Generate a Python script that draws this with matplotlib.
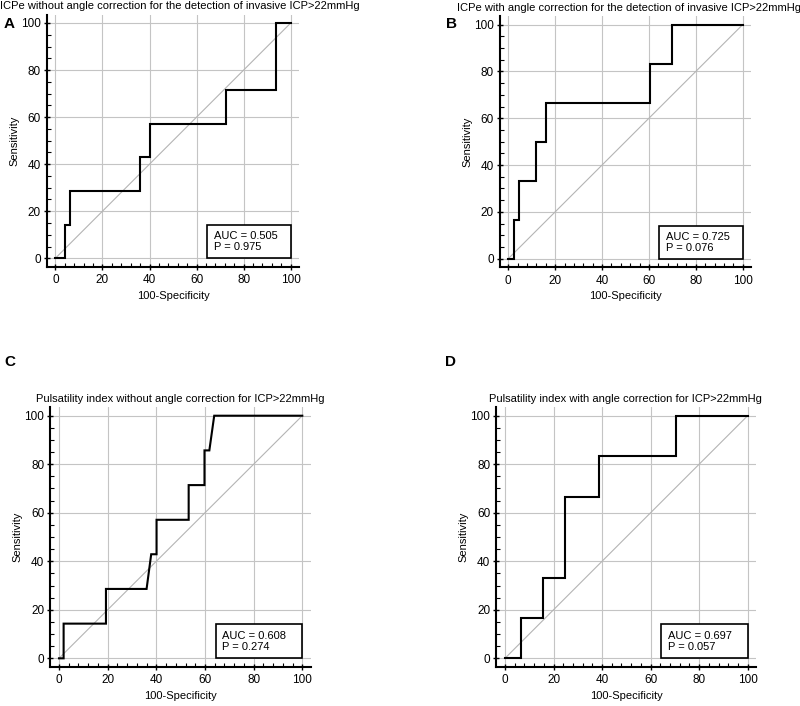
import matplotlib
matplotlib.use("Agg")
import matplotlib.pyplot as plt
from matplotlib.patches import Rectangle
from matplotlib.ticker import MultipleLocator

plt.rcParams["font.family"] = ["Liberation Sans", "DejaVu Sans"]

# ---- data ----
titles = [
    "ICPe without angle correction for the detection of invasive ICP>22mmHg",
    "ICPe with angle correction for the detection of invasive ICP>22mmHg",
    "Pulsatility index without angle correction for ICP>22mmHg",
    "Pulsatility index with angle correction for ICP>22mmHg",
]
panel_labels = ["A", "B", "C", "D"]

fpr_a = [0, 4.1, 4.1, 6.4, 6.4, 36.0, 36.0, 40.2, 40.2, 72.4, 72.4, 93.6, 93.6, 100]
tpr_a = [0, 0, 14.3, 14.3, 28.6, 28.6, 42.9, 42.9, 57.1, 57.1, 71.4, 71.4, 100, 100]

fpr_b = [0, 2.3, 2.3, 4.6, 4.6, 11.7, 11.7, 16.2, 16.2, 60.5, 60.5, 69.8, 69.8, 100]
tpr_b = [0, 0, 16.7, 16.7, 33.3, 33.3, 50.0, 50.0, 66.7, 66.7, 83.3, 83.3, 100, 100]

fpr_c = [0, 1.9, 1.9, 19.3, 19.3, 36.0, 37.9, 40.1, 40.1, 53.3, 53.3, 59.8, 59.8, 61.8, 63.8, 100]
tpr_c = [0, 0, 14.3, 14.3, 28.6, 28.6, 42.9, 42.9, 57.1, 57.1, 71.4, 71.4, 85.7, 85.7, 100, 100]

fpr_d = [0, 6.6, 6.6, 15.8, 15.8, 24.9, 24.9, 38.7, 38.7, 70.5, 70.5, 100]
tpr_d = [0, 0, 16.7, 16.7, 33.3, 33.3, 66.7, 66.7, 83.3, 83.3, 100, 100]

auc_values = [0.505, 0.725, 0.608, 0.697]
p_values = [0.975, 0.076, 0.274, 0.057]

curves = [(fpr_a, tpr_a), (fpr_b, tpr_b), (fpr_c, tpr_c), (fpr_d, tpr_d)]

# axes rectangles in figure fractions (left, bottom, width, height)
positions = [
    (0.0589, 0.6225, 0.3148, 0.3566),
    (0.6251, 0.6220, 0.3135, 0.3547),
    (0.0631, 0.0555, 0.3254, 0.3677),
    (0.6206, 0.0555, 0.3246, 0.3677),
]
# left edge of each title, in axes fraction
title_x = [-0.186, -0.17, -0.056, -0.027]

fig = plt.figure(figsize=(8.0, 7.06), dpi=100)

for k, pos in enumerate(positions):
    ax = fig.add_axes(pos)
    fpr, tpr = curves[k]
    ax.set_xlim(-3.5, 103.5)
    ax.set_ylim(-3.5, 103.5)

    ax.grid(True, color="#c4c4c4", linewidth=0.8)
    ax.set_axisbelow(True)
    ax.plot([0, 100], [0, 100], color="#b4b4b4", linewidth=0.8, zorder=2)
    ax.plot(fpr, tpr, color="black", linewidth=1.5, zorder=3,
            solid_joinstyle="miter")

    # AUC box
    ax.add_patch(Rectangle((64.4, 0), 35.6, 14.0, facecolor="white",
                           edgecolor="black", linewidth=1.2, zorder=4))
    ax.text(67.2, 7.0, f"AUC = {auc_values[k]:.3f}\nP = {p_values[k]:.3f}",
            ha="left", va="center", fontsize=8, linespacing=1.15, zorder=5)

    ax.xaxis.set_major_locator(MultipleLocator(20))
    ax.xaxis.set_minor_locator(MultipleLocator(4))
    ax.yaxis.set_major_locator(MultipleLocator(20))
    ax.yaxis.set_minor_locator(MultipleLocator(5))
    ax.tick_params(which="major", direction="inout", length=5, width=1,
                   labelsize=8.5, pad=2)
    ax.tick_params(which="minor", direction="in", length=3, width=0.8)
    ax.tick_params(axis="x", which="major", pad=3)

    for side in ("top", "right"):
        ax.spines[side].set_visible(False)
    for side in ("left", "bottom"):
        ax.spines[side].set_linewidth(1.5)

    ax.set_xlabel("100-Specificity", fontsize=8, labelpad=3.5)
    ax.set_ylabel("Sensitivity", fontsize=8, labelpad=1)
    ax.set_title(titles[k], fontsize=8, pad=4, x=title_x[k], ha="left")

# panel letters
label_xy = [(0.005, 0.956), (0.558, 0.956), (0.006, 0.478), (0.556, 0.478)]
for lab, (x, y) in zip(panel_labels, label_xy):
    fig.text(x, y, lab, fontsize=11, fontweight="bold", ha="left", va="bottom")

fig.savefig("out.png", dpi=100)
